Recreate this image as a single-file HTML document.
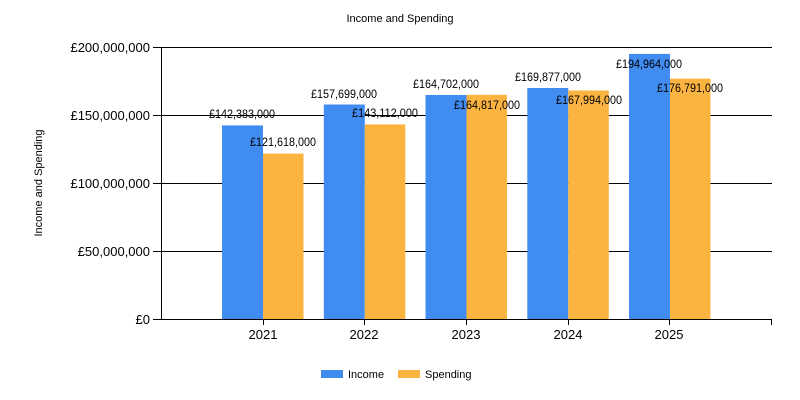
<!DOCTYPE html>
<html><head><style>body{margin:0;background:#fff}svg{display:block}text{font-family:"Liberation Sans",Arial,sans-serif;fill:#000}</style></head>
<body>
<svg width="800" height="400" xmlns="http://www.w3.org/2000/svg">
<rect width="800" height="400" fill="#fff"/>
<text x="400" y="22" font-size="11" text-anchor="middle">Income and Spending</text>
<text transform="translate(42,183) rotate(-90)" font-size="11" text-anchor="middle">Income and Spending</text>
<g stroke="#000" stroke-width="1">
<line x1="153" y1="47.5" x2="772" y2="47.5"/>
<line x1="153" y1="115.5" x2="772" y2="115.5"/>
<line x1="153" y1="183.5" x2="772" y2="183.5"/>
<line x1="153" y1="251.5" x2="772" y2="251.5"/>
</g>
<g font-size="13" text-anchor="end">
<text x="150" y="52">£200,000,000</text>
<text x="150" y="120">£150,000,000</text>
<text x="150" y="188">£100,000,000</text>
<text x="150" y="256">£50,000,000</text>
<text x="150" y="324">£0</text>
</g>
<g>
<rect x="222" y="125.4" width="41" height="193.6" fill="#418CF0"/>
<rect x="263" y="153.6" width="40.5" height="165.4" fill="#FCB441"/>
<rect x="323.8" y="104.5" width="41" height="214.5" fill="#418CF0"/>
<rect x="364.8" y="124.4" width="40.5" height="194.6" fill="#FCB441"/>
<rect x="425.5" y="95" width="41" height="224" fill="#418CF0"/>
<rect x="466.5" y="94.8" width="40.5" height="224.2" fill="#FCB441"/>
<rect x="527.3" y="88" width="41" height="231" fill="#418CF0"/>
<rect x="568.3" y="90.5" width="40.5" height="228.5" fill="#FCB441"/>
<rect x="629" y="53.9" width="41" height="265.1" fill="#418CF0"/>
<rect x="670" y="78.6" width="40.5" height="240.4" fill="#FCB441"/>
</g>
<g stroke="#000" stroke-width="1">
<line x1="161.5" y1="47" x2="161.5" y2="319"/>
<line x1="153" y1="319.5" x2="772" y2="319.5"/>
<line x1="263.5" y1="319" x2="263.5" y2="325"/>
<line x1="364.5" y1="319" x2="364.5" y2="325"/>
<line x1="466.5" y1="319" x2="466.5" y2="325"/>
<line x1="568.5" y1="319" x2="568.5" y2="325"/>
<line x1="669.5" y1="319" x2="669.5" y2="325"/>
<line x1="771.5" y1="319" x2="771.5" y2="325"/>
</g>
<g font-size="11.5" text-anchor="middle">
<text x="242" y="118" textLength="66" lengthAdjust="spacingAndGlyphs">£142,383,000</text>
<text x="283" y="146" textLength="66" lengthAdjust="spacingAndGlyphs">£121,618,000</text>
<text x="344" y="98" textLength="66" lengthAdjust="spacingAndGlyphs">£157,699,000</text>
<text x="385" y="117" textLength="66" lengthAdjust="spacingAndGlyphs">£143,112,000</text>
<text x="446" y="88" textLength="66" lengthAdjust="spacingAndGlyphs">£164,702,000</text>
<text x="487" y="109" textLength="66" lengthAdjust="spacingAndGlyphs">£164,817,000</text>
<text x="548" y="81" textLength="66" lengthAdjust="spacingAndGlyphs">£169,877,000</text>
<text x="589" y="104" textLength="66" lengthAdjust="spacingAndGlyphs">£167,994,000</text>
<text x="649" y="68" textLength="66" lengthAdjust="spacingAndGlyphs">£194,964,000</text>
<text x="690" y="92" textLength="66" lengthAdjust="spacingAndGlyphs">£176,791,000</text>
</g>
<g font-size="13" text-anchor="middle">
<text x="263" y="339">2021</text>
<text x="364" y="339">2022</text>
<text x="466" y="339">2023</text>
<text x="568" y="339">2024</text>
<text x="669" y="339">2025</text>
</g>
<rect x="321" y="370" width="22" height="8" fill="#418CF0"/>
<text x="348" y="378" font-size="11">Income</text>
<rect x="398" y="370" width="22" height="8" fill="#FCB441"/>
<text x="425" y="378" font-size="11">Spending</text>
</svg>
</body></html>
